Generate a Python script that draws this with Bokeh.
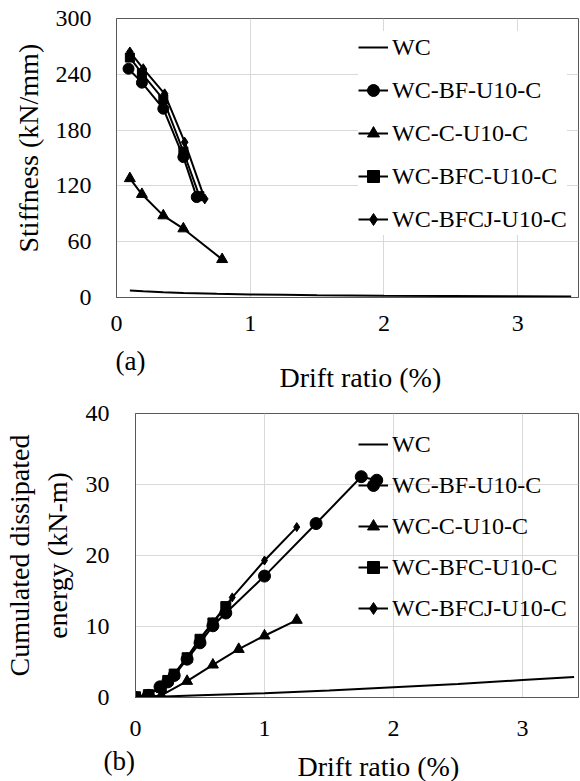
from bokeh.plotting import figure
from bokeh.models import Legend, LegendItem, Title, Range1d, FixedTicker
from bokeh.embed import file_html
from bokeh.resources import INLINE

FONT = "'Liberation Serif', 'Times New Roman', serif"

series_names = ["WC", "WC-BF-U10-C", "WC-C-U10-C", "WC-BFC-U10-C", "WC-BFCJ-U10-C"]
series_markers = [None, "circle", "triangle", "square", "diamond"]

# (a) Stiffness (kN/mm) vs drift ratio (%)
a_wc_x = [0.1, 0.2, 0.35, 0.5, 0.75, 1.0, 1.25, 1.5, 2.0, 2.5, 3.0, 3.4]
a_wc_y = [7.5, 6.6, 5.6, 4.9, 4.0, 3.3, 2.9, 2.5, 2.0, 1.7, 1.4, 1.1]
a_bf_x = [0.09, 0.19, 0.35, 0.5, 0.6]
a_bf_y = [246, 231, 203, 151, 108]
a_c_x = [0.1, 0.19, 0.35, 0.5, 0.79]
a_c_y = [128, 111, 88, 74, 41]
a_bfc_x = [0.1, 0.19, 0.35, 0.5, 0.62]
a_bfc_y = [258, 241, 213, 157, 109]
a_bfcj_x = [0.1, 0.2, 0.36, 0.51, 0.66]
a_bfcj_y = [264, 246, 219, 167, 106]

# (b) Cumulated dissipated energy (kN-m) vs drift ratio (%)
b_wc_x = [0, 0.5, 1.0, 1.5, 2.0, 2.5, 3.0, 3.4]
b_wc_y = [0, 0.3, 0.6, 1.0, 1.45, 1.9, 2.45, 2.9]
b_bf_x = [0, 0.1, 0.19, 0.25, 0.3, 0.4, 0.5, 0.6, 0.7, 1.0, 1.4, 1.75, 1.87]
b_bf_y = [0, 0.3, 1.5, 2.2, 3.1, 5.4, 7.7, 10.1, 11.9, 17.1, 24.5, 31.1, 30.6]
b_c_x = [0, 0.1, 0.2, 0.4, 0.6, 0.8, 1.0, 1.25]
b_c_y = [0, 0.1, 0.3, 2.3, 4.6, 6.8, 8.7, 10.9]
b_bfc_x = [0, 0.1, 0.2, 0.25, 0.3, 0.4, 0.5, 0.6, 0.7]
b_bfc_y = [0.1, 0.4, 1.4, 2.4, 3.3, 5.6, 8.2, 10.5, 12.8]
b_bfcj_x = [0, 0.1, 0.2, 0.3, 0.4, 0.5, 0.6, 0.75, 1.0, 1.25]
b_bfcj_y = [0.1, 0.4, 1.5, 3.3, 5.7, 8.3, 10.6, 14.1, 19.3, 24.0]

a_x_ticks = [0, 1, 2, 3]
a_y_ticks = [0, 60, 120, 180, 240, 300]
b_x_ticks = [0, 1, 2, 3]
b_y_ticks = [0, 10, 20, 30, 40]

AX_COLOR = "#595959"
GRID_COLOR = "#d9d9d9"


def style(p, xt, yt, xstand, ystand):
    p.xaxis.ticker = FixedTicker(ticks=xt)
    p.yaxis.ticker = FixedTicker(ticks=yt)
    for ax in (p.xaxis, p.yaxis):
        ax.axis_line_color = AX_COLOR
        ax.major_tick_line_color = None
        ax.minor_tick_line_color = None
        ax.major_label_text_font = FONT
        ax.major_label_text_font_size = "24px"
        ax.major_label_text_color = "black"
    p.xaxis.major_label_standoff = xstand
    p.yaxis.major_label_standoff = ystand
    p.xgrid.grid_line_color = GRID_COLOR
    p.ygrid.grid_line_color = GRID_COLOR
    p.outline_line_color = AX_COLOR
    p.outline_line_alpha = 1.0
    p.background_fill_color = "white"
    p.border_fill_color = "white"


def add_series(p, data, sizes):
    items = []
    for (xs, ys), name, mk, sz in zip(data, series_names, series_markers, sizes):
        rs = [p.line(xs, ys, line_color="black", line_width=2)]
        if mk is not None:
            rs.append(p.scatter(xs, ys, marker=mk, size=sz, fill_color="black", line_color="black"))
        items.append(LegendItem(label=name, renderers=rs))
    return items


def add_legend(p, items, loc, spacing, bg):
    lg = Legend(items=items, location=loc, orientation="vertical")
    lg.label_text_font = FONT
    lg.label_text_font_size = "24px"
    lg.label_text_color = "black"
    lg.glyph_width = 30
    lg.glyph_height = 32
    lg.label_height = 32
    lg.label_standoff = 4
    lg.spacing = spacing
    lg.padding = 5
    lg.margin = 0
    lg.border_line_color = None
    if bg:
        lg.background_fill_color = "white"
        lg.background_fill_alpha = 1.0
    else:
        lg.background_fill_alpha = 0.0
    p.add_layout(lg)


def title(p, s, place, align="center", offset=0, standoff=10, valign="bottom", size="28px"):
    t = Title(text=s, align=align, offset=offset, standoff=standoff, vertical_align=valign,
              text_font=FONT, text_font_size=size, text_font_style="normal", text_color="black")
    p.add_layout(t, place)


# ---- figure (a)
p1 = figure(frame_width=462, frame_height=279, x_range=Range1d(0, 3.455), y_range=Range1d(0, 300),
            min_border_left=116, min_border_right=2, min_border_top=18, min_border_bottom=103,
            output_backend="svg", toolbar_location=None)
style(p1, a_x_ticks, a_y_ticks, 12, 19)
items1 = add_series(p1, [(a_wc_x, a_wc_y), (a_bf_x, a_bf_y), (a_c_x, a_c_y), (a_bfc_x, a_bfc_y),
                         (a_bfcj_x, a_bfcj_y)], [0, 11, 11, 9, 10])
add_legend(p1, items1, (242, 62), 11, True)
title(p1, "Stiffness (kN/mm)", "left", align="left", offset=45, standoff=17)
title(p1, "(a)", "below", align="left", offset=-1, standoff=21, size="27px")
title(p1, "Drift ratio (%)", "below", align="left", offset=163, standoff=-50, valign="top")

# ---- figure (b)
p2 = figure(frame_width=443, frame_height=284, x_range=Range1d(0, 3.434), y_range=Range1d(0, 40),
            min_border_left=135, min_border_right=2, min_border_top=13, min_border_bottom=84,
            output_backend="svg", toolbar_location=None)
style(p2, b_x_ticks, b_y_ticks, 17, 20)
items2 = add_series(p2, [(b_wc_x, b_wc_y), (b_bf_x, b_bf_y), (b_c_x, b_c_y), (b_bfc_x, b_bfc_y),
                         (b_bfcj_x, b_bfcj_y)], [0, 12, 11, 10, 9])
add_legend(p2, items2, (223, 73), 9, False)
title(p2, "energy (kN-m)", "left", standoff=20)
title(p2, "Cumulated dissipated", "left", standoff=-10)
title(p2, "(b)", "below", align="left", offset=-32, standoff=10, size="27px")
title(p2, "Drift ratio (%)", "below", align="left", offset=162, standoff=-60, valign="top")

open("out.html", "w").write(file_html([p1, p2], INLINE))
